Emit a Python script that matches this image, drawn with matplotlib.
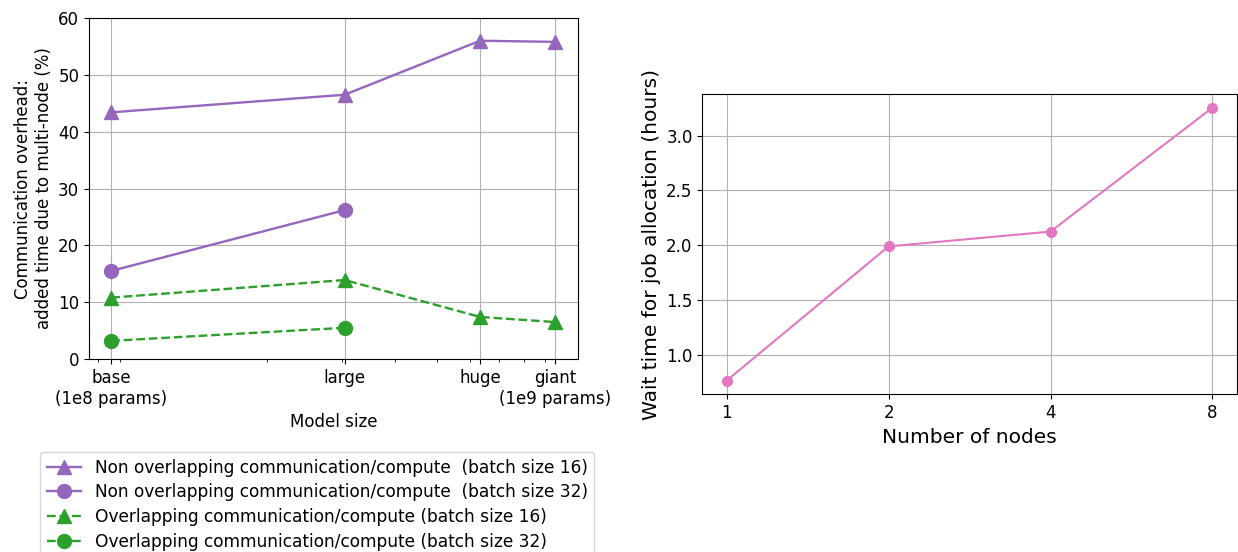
"""
Communication overhead vs model size, and job wait time vs node count
"""
import matplotlib
matplotlib.use("Agg")
import matplotlib.pyplot as plt
from matplotlib.ticker import NullFormatter, NullLocator

# model sizes (params) for base / large / huge / giant
model_params = [86e6, 304e6, 632e6, 950e6]
model_labels = ["base\n(1e8 params)", "large", "huge", "giant\n(1e9 params)"]

non_overlap_bs16 = [43.4, 46.5, 56.0, 55.8]
non_overlap_bs32 = [15.5, 26.2]
overlap_bs16 = [10.8, 13.9, 7.4, 6.5]
overlap_bs32 = [3.2, 5.5]

num_nodes = [1, 2, 4, 8]
wait_hours = [0.766, 1.99, 2.125, 3.255]

plt.rcParams["font.size"] = 12

fig = plt.figure(figsize=(12.38, 5.52), dpi=100)
ax1 = fig.add_axes([0.0719, 0.3496, 0.3947, 0.6178])
ax2 = fig.add_axes([0.5673, 0.2857, 0.4317, 0.5440])

purple = "tab:purple"
green = "tab:green"

ax1.plot(model_params, non_overlap_bs16, marker="^", ms=10, color=purple, lw=1.7,
         label="Non overlapping communication/compute  (batch size 16)")
ax1.plot(model_params[:2], non_overlap_bs32, marker="o", ms=10, color=purple, lw=1.7,
         label="Non overlapping communication/compute  (batch size 32)")
ax1.plot(model_params, overlap_bs16, marker="^", ms=10, color=green, lw=1.7, ls="--",
         label="Overlapping communication/compute (batch size 16)")
ax1.plot(model_params[:2], overlap_bs32, marker="o", ms=10, color=green, lw=1.7, ls="--",
         label="Overlapping communication/compute (batch size 32)")
ax1.set_xscale("log")
ax1.set_xticks(model_params, model_labels)
ax1.xaxis.set_minor_formatter(NullFormatter())
ax1.set_ylim(0, 60)
ax1.grid(True)
ax1.set_xlabel("Model size")
ax1.set_ylabel("Communication overhead:\nadded time due to multi-node (%)")

fig.legend(loc="upper left", bbox_to_anchor=(0.0255, 0.197), labelspacing=0.4,
           fontsize=12.25)

ax2.plot(num_nodes, wait_hours, marker="o", ms=7, color="tab:pink", lw=1.5)
ax2.set_xscale("log", base=2)
ax2.set_xticks(num_nodes, [str(n) for n in num_nodes])
ax2.xaxis.set_minor_locator(NullLocator())
ax2.grid(True)
ax2.set_xlabel("Number of nodes", fontsize=14.5)
ax2.set_ylabel("Wait time for job allocation (hours)", fontsize=14.5)

fig.savefig("out.png", dpi=100)
